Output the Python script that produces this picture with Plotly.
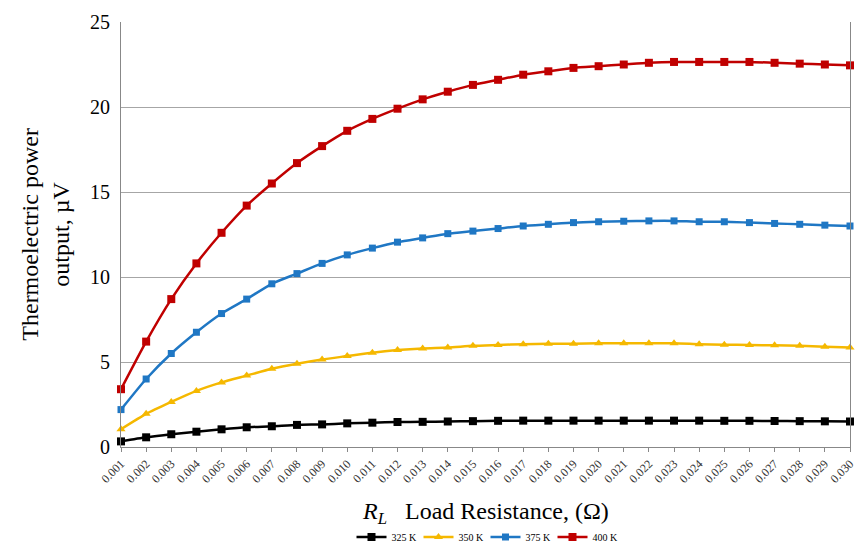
import plotly.graph_objects as go

# Load resistance categories (ohm)
load_resistance = [f"{0.001 * i:.3f}" for i in range(1, 31)]

# Thermoelectric power output (µV) at each temperature
power_325K = [0.33, 0.57, 0.75, 0.90, 1.04, 1.16, 1.22, 1.30, 1.33, 1.39,
              1.43, 1.47, 1.48, 1.50, 1.52, 1.54, 1.55, 1.55, 1.55, 1.55,
              1.55, 1.55, 1.55, 1.55, 1.54, 1.54, 1.53, 1.52, 1.51, 1.50]
power_350K = [1.05, 1.95, 2.65, 3.30, 3.80, 4.20, 4.60, 4.90, 5.15, 5.35,
              5.55, 5.70, 5.80, 5.85, 5.95, 6.00, 6.05, 6.07, 6.08, 6.10,
              6.10, 6.10, 6.10, 6.05, 6.02, 6.00, 5.98, 5.95, 5.90, 5.85]
power_375K = [2.20, 4.00, 5.50, 6.75, 7.85, 8.70, 9.60, 10.20, 10.80, 11.30,
              11.70, 12.05, 12.30, 12.55, 12.70, 12.85, 13.00, 13.10, 13.20, 13.25,
              13.28, 13.30, 13.30, 13.25, 13.25, 13.20, 13.15, 13.10, 13.05, 13.00]
power_400K = [3.40, 6.20, 8.70, 10.80, 12.60, 14.20, 15.50, 16.70, 17.70, 18.60,
              19.30, 19.90, 20.45, 20.90, 21.30, 21.60, 21.90, 22.10, 22.30, 22.40,
              22.50, 22.60, 22.65, 22.65, 22.65, 22.65, 22.60, 22.55, 22.50, 22.45]

series = [
    ("325 K", power_325K, "#000000", "square", 8),
    ("350 K", power_350K, "#F5B800", "triangle-up", 8),
    ("375 K", power_375K, "#1F77C4", "square", 7),
    ("400 K", power_400K, "#C00000", "square", 8),
]

serif = "Liberation Serif, Times New Roman, serif"

fig = go.Figure()
for name, vals, color, symbol, size in series:
    fig.add_trace(go.Scatter(
        x=load_resistance, y=vals, name=name, mode="lines+markers",
        line=dict(color=color, width=2.5, shape="spline", smoothing=0.6),
        marker=dict(symbol=symbol, size=size, color=color),
        cliponaxis=False,
    ))

fig.update_layout(
    width=856, height=545,
    margin=dict(l=121, r=6, t=22, b=98, autoexpand=False),
    paper_bgcolor="white", plot_bgcolor="white",
    font=dict(family=serif, color="#000000"),
    showlegend=True,
    legend=dict(orientation="h", x=0.5, xanchor="center", y=-0.212, yanchor="middle",
                font=dict(size=10, family=serif), itemwidth=30,
                entrywidth=22, entrywidthmode="pixels",
                tracegroupgap=0, bgcolor="rgba(0,0,0,0)"),
    xaxis=dict(
        type="category", range=[0, 29], automargin=False,
        tickangle=-45, tickfont=dict(size=12, family=serif, color="#333333"),
        showgrid=False, showline=True, linecolor="#888888", linewidth=1,
        ticks="outside", ticklen=4, tickcolor="#888888",
    ),
    yaxis=dict(
        range=[0, 25], dtick=5, automargin=False,
        tickfont=dict(size=20, family=serif),
        showgrid=True, gridcolor="#A6A6A6", gridwidth=1,
        showline=True, linecolor="#888888", linewidth=1, mirror=True,
        zeroline=False, ticks="", ticklabelstandoff=6,
    ),
    annotations=[
        dict(text="Thermoelectric power<br>output, µV", xref="paper", yref="paper",
             x=-0.104, y=0.5, textangle=-90, showarrow=False,
             font=dict(size=24, family=serif), xanchor="center", yanchor="middle"),
        dict(text="<i>R</i><sub><i>L</i></sub>   Load Resistance, (Ω)",
             xref="paper", yref="paper", x=0.5, y=-0.155,
             showarrow=False, font=dict(size=24, family=serif),
             xanchor="center", yanchor="middle"),
    ],
)

fig.write_html("out.html")
